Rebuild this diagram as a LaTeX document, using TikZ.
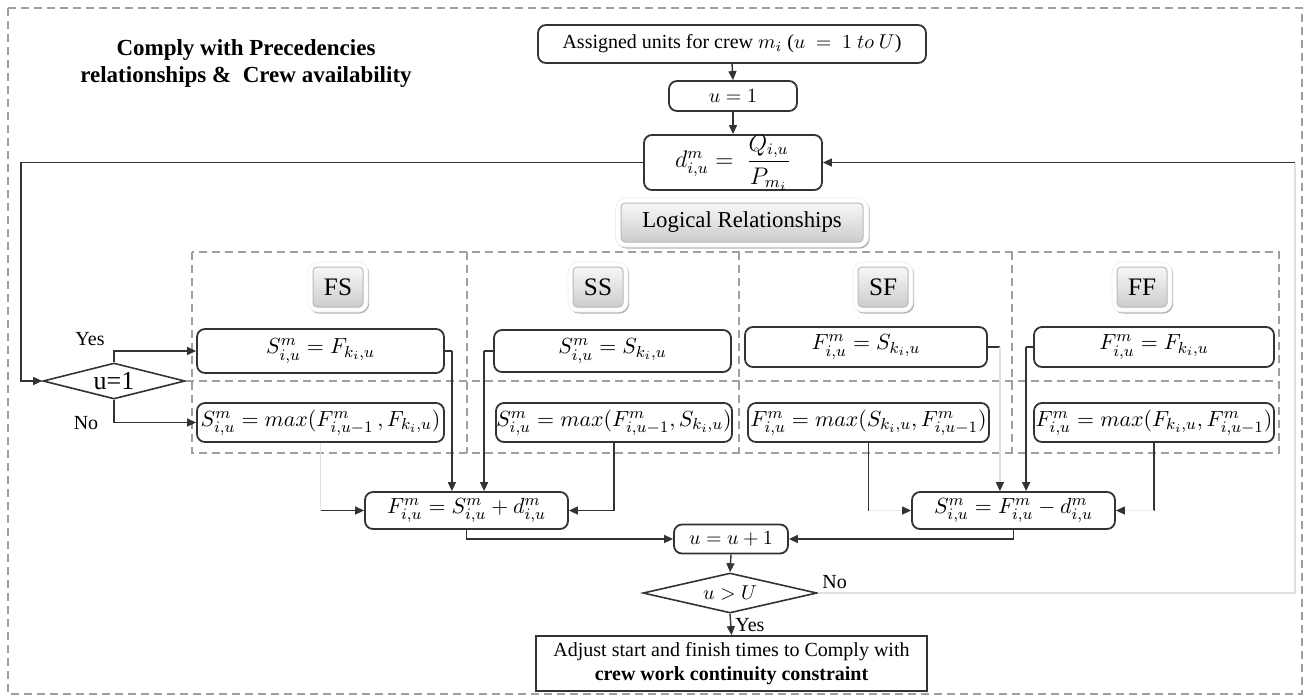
\documentclass[tikz,border=0pt]{standalone}
\usepackage{amsmath}
\usepackage{fontspec}
\setmainfont{Liberation Serif}
\usetikzlibrary{shapes.geometric,arrows.meta,shadows}
\newcommand{\eqfont}{\fontsize{10.95}{13}\selectfont}
\tikzset{
 box/.style={draw=black!80, line width=0.9pt, rounded corners=4pt, fill=white, inner sep=0pt, align=center},
 eqbox/.style={box, font=\eqfont},
 sqbox/.style={draw=black!80, line width=0.9pt, fill=white, inner sep=0pt, align=center},
 dia/.style={diamond, draw=black!80, line width=0.8pt, inner sep=0pt, fill=white},
 arr/.style={-{Triangle[length=4.5pt,width=4pt]}, line width=0.7pt, draw=black!80},
 ln/.style={line width=0.7pt, draw=black!80},
 faint/.style={line width=0.6pt, draw=gray!25},
 farr/.style={line width=0.6pt, draw=gray!15, -{Triangle[length=4.5pt,width=4pt,color=black!80,fill=black!80]}},
 farrv/.style={line width=0.6pt, draw=gray!25, -{Triangle[length=4.5pt,width=4pt,color=black!80,fill=black!80]}},
 dsh/.style={draw=gray!75, line width=0.7pt, dash pattern=on 4pt off 2.5pt},
 btnout/.style={fill=white, draw=gray!12, rounded corners=5pt, inner sep=0pt, drop shadow={shadow xshift=0.6pt, shadow yshift=-0.8pt, opacity=0.3, fill=black}},
 btn/.style={top color=gray!6, bottom color=gray!40, draw=gray!55, line width=0.5pt, rounded corners=2pt, inner sep=0pt},
 lbl/.style={inner sep=0pt, font=\normalsize},
}
\begin{document}
\begin{tikzpicture}[x=0.5pt,y=-0.5pt]
\useasboundingbox (0,0) rectangle (1309,697);
% outer border
\draw[dsh] (8,8) rectangle (1302,694);
% title
\node[font=\fontsize{11.5}{13.5}\selectfont\bfseries, align=center] (title) at (246,63) {Comply with Precedencies\\relationships \&\ \ Crew availability};
% top chain
\node[box, minimum width=194pt, minimum height=19pt] (assign) at (732,44) {Assigned units for crew $m_i$ ($u\ =\ 1\ to\ U$)};
\node[box, minimum width=64pt, minimum height=15pt] (u1) at (733,96) {$u=1$};
\node[box, minimum width=89pt, minimum height=27.5pt, font=\large] (d) at (733,162.5) {$d^m_{i,u} =\ \dfrac{Q_{i,u}}{P_{m_i}}$};
% Logical relationships button
\node[btnout, minimum width=126.5pt, minimum height=24.5pt] (lrO) at (742,222.5) {};
\node[btn, minimum width=121pt, minimum height=19.5pt, font=\fontsize{11.4}{13}\selectfont] (lr) at (lrO) {Logical Relationships};
% panel
\draw[dsh] (192,252) rectangle (1279,453);
\draw[dsh] (467,252) -- (467,453);
\draw[dsh] (739,252) -- (739,453);
\draw[dsh] (1012,252) -- (1012,453);
% buttons
\foreach \nm/\tx/\xx in {fs/FS/338, ss/SS/598, sf/SF/883, ff/FF/1142}{
  \node[btnout, minimum width=30pt, minimum height=25pt] (\nm O) at (\xx,287) {};
  \node[btn, minimum width=25pt, minimum height=20pt, font=\fontsize{12.6}{14}\selectfont] (\nm B) at (\nm O) {\tx};
}
% diamond u=1
\node[dia, minimum width=71pt, minimum height=18pt, aspect=3.9, font=\fontsize{13}{15}\selectfont] (d1) at (114,381) {u=1};
\draw[dsh] (d1.east) -- (1273,381);
% equation boxes
\node[eqbox, minimum width=123.5pt, minimum height=22pt] (fst) at (320.5,351) {$S^m_{i,u} = F_{k_i,u}$};
\node[eqbox, minimum width=123.5pt, minimum height=19.5pt] (fsb) at (320.5,422.5) {$S^m_{i,u} = max(F^m_{i,u-1}\,, F_{k_i,u})$};
\node[eqbox, minimum width=118.5pt, minimum height=21pt] (sst) at (612.5,351) {$S^m_{i,u} = S_{k_i,u}$};
\node[eqbox, minimum width=118pt, minimum height=19.5pt] (ssb) at (614,422.5) {$S^m_{i,u} = max(F^m_{i,u-1}, S_{k_i,u})$};
\node[eqbox, minimum width=121pt, minimum height=20pt] (sft) at (866,347) {$F^m_{i,u} = S_{k_i,u}$};
\node[eqbox, minimum width=120.5pt, minimum height=19.5pt] (sfb) at (868.5,422.5) {$F^m_{i,u} = max(S_{k_i,u}, F^m_{i,u-1})$};
\node[eqbox, minimum width=120pt, minimum height=20pt] (fft) at (1154,347) {$F^m_{i,u} = F_{k_i,u}$};
\node[eqbox, minimum width=120pt, minimum height=19.5pt] (ffb) at (1154,422.5) {$F^m_{i,u} = max(F_{k_i,u}, F^m_{i,u-1})$};
\node[eqbox, minimum width=101.5pt, minimum height=18.5pt] (F) at (466.5,510.5) {$F^m_{i,u} = S^m_{i,u} + d^m_{i,u}$};
\node[eqbox, minimum width=101.5pt, minimum height=18.5pt] (S) at (1013.5,510.5) {$S^m_{i,u} = F^m_{i,u} - d^m_{i,u}$};
\node[box, minimum width=57pt, minimum height=14.5pt] (uplus) at (731,539) {$u = u+1$};
\node[dia, minimum width=87pt, minimum height=20pt, aspect=4.35] (dU) at (730,593) {$u > U$};
\node[sqbox, minimum width=195.5pt, minimum height=27.5pt] (adjust) at (731.5,663.5) {Adjust start and finish times to Comply with\\\textbf{crew work continuity constraint}};
% labels
\node[lbl] (yes1) at (90,339) {Yes};
\node[lbl] (no1) at (86,423) {No};
\node[lbl, anchor=west] (no2) at (822,582) {No};
\node[lbl, anchor=west] (yes2) at (735,625) {Yes};
% connectors: top chain
\draw[arr] (assign.south) -- (u1.north);
\draw[arr] (u1.south) -- (d.north);
\draw[arr] (d.west) -- ++(-622,0) |- (d1.west);
\draw[arr] (d1.north) |- (fst.west);
\draw[arr] (d1.south) |- (fsb.west);
% FS / SS to F
\draw[ln] (fst.east) -- ++(7,0) coordinate (fsx);
\draw[arr] (fsx) -- (fsx |- F.north);
\draw[ln] (sst.west) -- ++(-9,0) coordinate (ssx);
\draw[arr] (ssx) -- (ssx |- F.north);
\draw[arr] (ssb.south) |- (F.east);
\draw[faint] (fsb.south) -- (fsb.south |- F.west) coordinate (fsy);
\draw[arr] (fsy) -- (F.west);
% SF / FF to S
\draw[ln] (sft.east) -- ++(12,0) coordinate (sfx);
\draw[farrv] (sfx) -- (sfx |- S.north);
\draw[ln] (fft.west) -- ++(-7,0) coordinate (ffx);
\draw[arr] (ffx) -- (ffx |- S.north);
\draw[ln] (sfb.south) -- (sfb.south |- S.west) coordinate (sfy);
\draw[farr] (sfy) -- (S.west);
\draw[ln] (ffb.south) -- (ffb.south |- S.east) coordinate (ffy);
\draw[farr] (ffy) -- (S.east);
% to u = u + 1
\draw[arr] (F.south) |- (uplus.west);
\draw[arr] (S.south) |- (uplus.east);
\draw[arr] (uplus.south) -- (dU.north);
\draw[arr] (dU.south) -- (adjust.north);
% loop back
\coordinate (rb) at (1295,0);
\draw[faint] (dU.east) -- (dU.east -| rb) -- (rb |- d.east);
\draw[arr] (rb |- d.east) -- (d.east);
\end{tikzpicture}
\end{document}
